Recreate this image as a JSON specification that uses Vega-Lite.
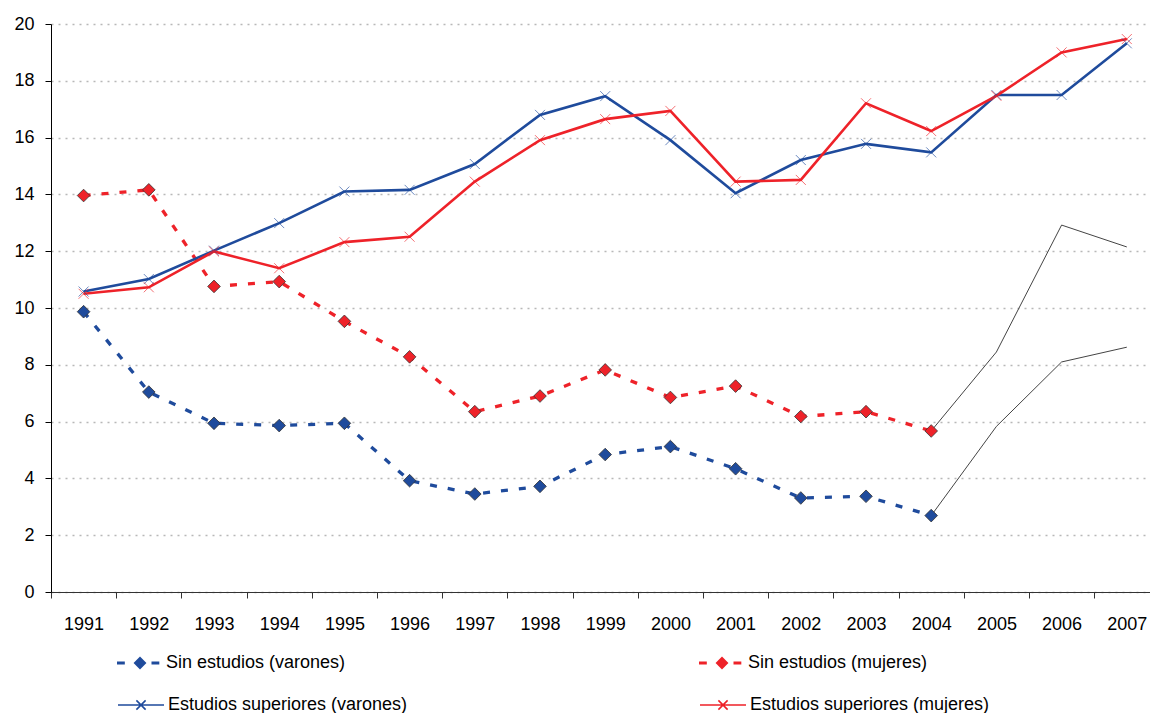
{
  "$schema": "https://vega.github.io/schema/vega-lite/v6.json",
  "autosize": {"type": "none"},
  "padding": {"left": 51, "top": 24, "right": 0, "bottom": 121},
  "width": 1099,
  "height": 568,
  "background": "white",
  "config": {
    "view": {"stroke": null},
    "font": "Liberation Sans",
    "axis": {"labelFont": "Liberation Sans", "labelFontSize": 18, "labelColor": "#000", "title": null},
    "legend": {"labelFont": "Liberation Sans", "labelFontSize": 18, "labelColor": "#000", "labelLimit": 400}
  },
  "datasets": {
    "d": [
      {"year": 1991, "s": "Sin estudios (varones)", "v": 9.87},
      {"year": 1992, "s": "Sin estudios (varones)", "v": 7.04},
      {"year": 1993, "s": "Sin estudios (varones)", "v": 5.94},
      {"year": 1994, "s": "Sin estudios (varones)", "v": 5.86},
      {"year": 1995, "s": "Sin estudios (varones)", "v": 5.94},
      {"year": 1996, "s": "Sin estudios (varones)", "v": 3.92},
      {"year": 1997, "s": "Sin estudios (varones)", "v": 3.45},
      {"year": 1998, "s": "Sin estudios (varones)", "v": 3.72},
      {"year": 1999, "s": "Sin estudios (varones)", "v": 4.84},
      {"year": 2000, "s": "Sin estudios (varones)", "v": 5.12},
      {"year": 2001, "s": "Sin estudios (varones)", "v": 4.34},
      {"year": 2002, "s": "Sin estudios (varones)", "v": 3.31},
      {"year": 2003, "s": "Sin estudios (varones)", "v": 3.37},
      {"year": 2004, "s": "Sin estudios (varones)", "v": 2.69},
      {"year": 1991, "s": "Sin estudios (mujeres)", "v": 13.96},
      {"year": 1992, "s": "Sin estudios (mujeres)", "v": 14.16},
      {"year": 1993, "s": "Sin estudios (mujeres)", "v": 10.76},
      {"year": 1994, "s": "Sin estudios (mujeres)", "v": 10.93},
      {"year": 1995, "s": "Sin estudios (mujeres)", "v": 9.53},
      {"year": 1996, "s": "Sin estudios (mujeres)", "v": 8.28},
      {"year": 1997, "s": "Sin estudios (mujeres)", "v": 6.35},
      {"year": 1998, "s": "Sin estudios (mujeres)", "v": 6.9},
      {"year": 1999, "s": "Sin estudios (mujeres)", "v": 7.82},
      {"year": 2000, "s": "Sin estudios (mujeres)", "v": 6.85},
      {"year": 2001, "s": "Sin estudios (mujeres)", "v": 7.25},
      {"year": 2002, "s": "Sin estudios (mujeres)", "v": 6.18},
      {"year": 2003, "s": "Sin estudios (mujeres)", "v": 6.35},
      {"year": 2004, "s": "Sin estudios (mujeres)", "v": 5.67},
      {"year": 1991, "s": "Estudios superiores (varones)", "v": 10.58},
      {"year": 1992, "s": "Estudios superiores (varones)", "v": 11.02},
      {"year": 1993, "s": "Estudios superiores (varones)", "v": 12.02},
      {"year": 1994, "s": "Estudios superiores (varones)", "v": 12.99},
      {"year": 1995, "s": "Estudios superiores (varones)", "v": 14.1},
      {"year": 1996, "s": "Estudios superiores (varones)", "v": 14.16},
      {"year": 1997, "s": "Estudios superiores (varones)", "v": 15.07},
      {"year": 1998, "s": "Estudios superiores (varones)", "v": 16.8},
      {"year": 1999, "s": "Estudios superiores (varones)", "v": 17.46},
      {"year": 2000, "s": "Estudios superiores (varones)", "v": 15.91},
      {"year": 2001, "s": "Estudios superiores (varones)", "v": 14.04},
      {"year": 2002, "s": "Estudios superiores (varones)", "v": 15.21},
      {"year": 2003, "s": "Estudios superiores (varones)", "v": 15.78},
      {"year": 2004, "s": "Estudios superiores (varones)", "v": 15.48},
      {"year": 2005, "s": "Estudios superiores (varones)", "v": 17.5},
      {"year": 2006, "s": "Estudios superiores (varones)", "v": 17.5},
      {"year": 2007, "s": "Estudios superiores (varones)", "v": 19.32},
      {"year": 1991, "s": "Estudios superiores (mujeres)", "v": 10.5},
      {"year": 1992, "s": "Estudios superiores (mujeres)", "v": 10.73},
      {"year": 1993, "s": "Estudios superiores (mujeres)", "v": 11.99},
      {"year": 1994, "s": "Estudios superiores (mujeres)", "v": 11.4},
      {"year": 1995, "s": "Estudios superiores (mujeres)", "v": 12.32},
      {"year": 1996, "s": "Estudios superiores (mujeres)", "v": 12.51},
      {"year": 1997, "s": "Estudios superiores (mujeres)", "v": 14.45},
      {"year": 1998, "s": "Estudios superiores (mujeres)", "v": 15.91},
      {"year": 1999, "s": "Estudios superiores (mujeres)", "v": 16.65},
      {"year": 2000, "s": "Estudios superiores (mujeres)", "v": 16.94},
      {"year": 2001, "s": "Estudios superiores (mujeres)", "v": 14.45},
      {"year": 2002, "s": "Estudios superiores (mujeres)", "v": 14.51},
      {"year": 2003, "s": "Estudios superiores (mujeres)", "v": 17.21},
      {"year": 2004, "s": "Estudios superiores (mujeres)", "v": 16.23},
      {"year": 2005, "s": "Estudios superiores (mujeres)", "v": 17.47},
      {"year": 2006, "s": "Estudios superiores (mujeres)", "v": 19.0},
      {"year": 2007, "s": "Estudios superiores (mujeres)", "v": 19.47},
      {"year": 2004, "s": "Proyección (varones)", "v": 2.69},
      {"year": 2005, "s": "Proyección (varones)", "v": 5.83},
      {"year": 2006, "s": "Proyección (varones)", "v": 8.1},
      {"year": 2007, "s": "Proyección (varones)", "v": 8.62},
      {"year": 2004, "s": "Proyección (mujeres)", "v": 5.67},
      {"year": 2005, "s": "Proyección (mujeres)", "v": 8.45},
      {"year": 2006, "s": "Proyección (mujeres)", "v": 12.92},
      {"year": 2007, "s": "Proyección (mujeres)", "v": 12.15}
    ]
  },
  "data": {"name": "d"},
  "encoding": {
    "x": {
      "field": "year", "type": "ordinal",
      "scale": {"type": "band", "range": [0, 1108.4], "paddingInner": 0, "paddingOuter": 0},
      "axis": {"tickBand": "extent", "labelAngle": 0, "domainColor": "#333", "tickColor": "#333", "tickSize": 6, "labelPadding": 17, "grid": false}
    },
    "y": {
      "field": "v", "type": "quantitative",
      "scale": {"domain": [0, 20], "nice": false, "zero": true},
      "axis": {"values": [0, 2, 4, 6, 8, 10, 12, 14, 16, 18, 20], "grid": true, "gridDash": [2, 5], "gridColor": "#b8b8b8", "gridWidth": 1.3, "domainColor": "#000", "tickColor": "#000", "tickSize": 6, "labelPadding": 11}
    }
  },
  "layer": [
    {
      "transform": [{"filter": "indexof(datum.s, 'Proyecci') === 0"}],
      "mark": {"type": "line", "color": "#444", "strokeWidth": 1},
      "encoding": {"detail": {"field": "s"}}
    },
    {
      "transform": [{"filter": "indexof(datum.s, 'Sin') === 0"}],
      "mark": {"type": "line", "strokeDash": [7, 11], "strokeWidth": 3.3},
      "encoding": {
        "stroke": {
          "field": "s", "type": "nominal",
          "scale": {"domain": ["Sin estudios (mujeres)", "Sin estudios (varones)"], "range": ["#ee2229", "#1f4b9c"]},
          "legend": null
        }
      }
    },
    {
      "transform": [{"filter": "indexof(datum.s, 'Estudios') === 0"}],
      "mark": {"type": "line", "strokeWidth": 2.6},
      "encoding": {
        "color": {
          "field": "s", "type": "nominal",
          "scale": {"domain": ["Estudios superiores (varones)", "Estudios superiores (mujeres)"], "range": ["#1f4b9c", "#ee2229"]},
          "legend": {
            "orient": "none", "legendX": 66, "legendY": 657,
            "direction": "horizontal", "columns": 2, "title": null,
            "symbolType": "M-1,0H1 M-0.2,-0.2L0.2,0.2 M-0.2,0.2L0.2,-0.2",
            "symbolSize": 2116, "symbolStrokeWidth": 1.6,
            "columnPadding": 288, "labelOffset": 3
          }
        }
      }
    },
    {
      "transform": [{"filter": "indexof(datum.s, 'Sin') === 0"}],
      "mark": {"type": "point", "shape": "diamond", "filled": true, "size": 160, "stroke": "#333", "strokeWidth": 0.8, "opacity": 1},
      "encoding": {
        "fill": {
          "field": "s", "type": "nominal",
          "scale": {"domain": ["Sin estudios (varones)", "Sin estudios (mujeres)"], "range": ["#1f4b9c", "#ee2229"]},
          "legend": {
            "orient": "none", "legendX": 66, "legendY": 616,
            "direction": "horizontal", "columns": 2, "title": null,
            "symbolType": "M-1,-0.07H-0.66V0.07H-1Z M0,-0.28L0.28,0L0,0.28L-0.28,0Z M0.5,-0.07H0.84V0.07H0.5Z",
            "symbolSize": 2116, "symbolStrokeWidth": 0,
            "columnPadding": 353, "labelOffset": 3
          }
        }
      }
    },
    {
      "transform": [{"filter": "indexof(datum.s, 'Estudios') === 0"}],
      "mark": {"type": "point", "shape": "M-1,-1L1,1M-1,1L1,-1", "filled": false, "size": 100, "strokeWidth": 1, "opacity": 1, "strokeOpacity": 0.65},
      "encoding": {"color": {"field": "s", "type": "nominal"}}
    }
  ]
}
